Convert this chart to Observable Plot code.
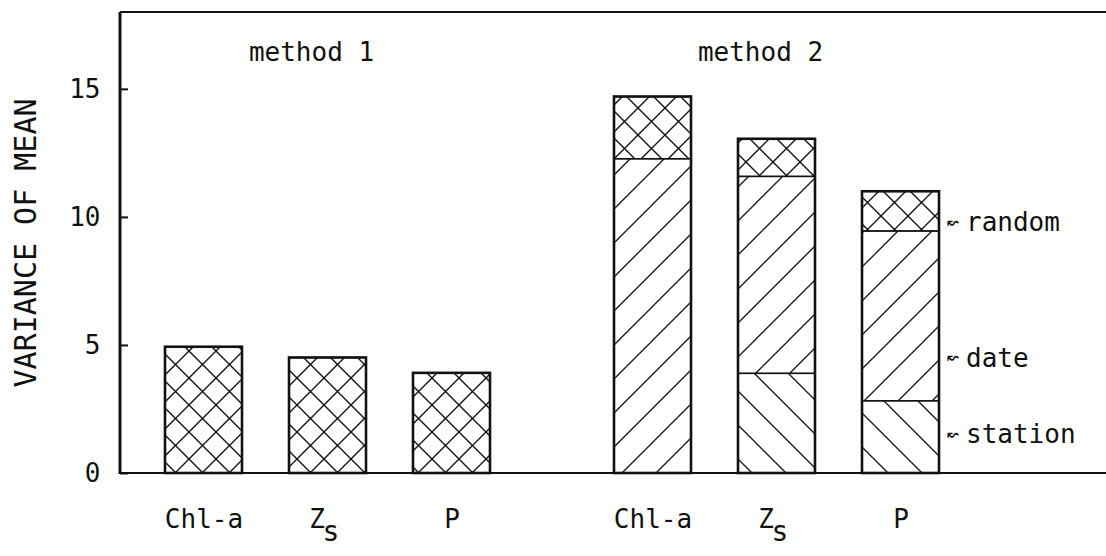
<!DOCTYPE html>
<html><head><meta charset="utf-8">
<script src="https://cdn.jsdelivr.net/npm/d3@7"></script>
<script src="https://cdn.jsdelivr.net/npm/@observablehq/plot@0.6"></script>
<style>body{margin:0;background:#fff} svg{display:block}</style>
</head><body><div id="chart"></div>
<script>
const methods = ["method 1", "method 2"];
const params = ["Chl-a", "Zs", "P"];
const components = ["station", "date", "random"];
const method1Random = [4.93, 4.51, 3.91];
const method2Station = [0, 3.89, 2.82];
const method2Date = [12.27, 7.69, 6.63];
const method2Random = [2.43, 1.47, 1.55];
const yTicks = [0, 5, 10, 15];
const yTitle = "VARIANCE OF MEAN";
const annotations = [
  {label: "random", y: 9.8},
  {label: "date", y: 4.5},
  {label: "station", y: 1.5}
];

const rows = [];
params.forEach((p, i) => {
  rows.push({method: methods[0], param: p, component: "random", value: method1Random[i]});
  rows.push({method: methods[1], param: p, component: "station", value: method2Station[i]});
  rows.push({method: methods[1], param: p, component: "date", value: method2Date[i]});
  rows.push({method: methods[1], param: p, component: "random", value: method2Random[i]});
});
const totals = d3.rollups(rows, v => d3.sum(v, d => d.value), d => d.method, d => d.param)
  .flatMap(([m, ps]) => ps.map(([p, t]) => ({method: m, param: p, total: t})));
const xLabels = methods.flatMap(m => params.map(p => ({method: m, param: p})));

const plot = Plot.plot({
  width: 1106,
  height: 556,
  marginLeft: 120,
  marginRight: 122.5,
  marginTop: 12,
  marginBottom: 83,
  style: {fontFamily: "'DejaVu Sans Mono', monospace", color: "#111", background: "#fff"},
  fx: {domain: methods, paddingInner: 0.079, paddingOuter: 0, axis: null, label: null},
  x: {domain: params, paddingInner: 0.38, paddingOuter: 0.346, axis: null, label: null},
  y: {domain: [0, 18]},
  color: {type: "ordinal", domain: components, range: ["url(#hatch-back)", "url(#hatch-fwd)", "url(#hatch-cross)"]},
  marks: [
    Plot.axisY({ticks: yTicks, tickSize: -8, tickPadding: 28, fontSize: 26, label: null, strokeWidth: 2}),
    Plot.axisY({ticks: [], tickSize: 0, label: yTitle, labelAnchor: "center", labelArrow: "none", labelOffset: 106, fontSize: 30}),
    Plot.barY(rows, {fx: "method", x: "param", y: "value", fill: "component", stroke: "#111", strokeWidth: 1.4}),
    Plot.barY(totals, {fx: "method", x: "param", y: "total", fill: "none", stroke: "#111", strokeWidth: 2.6}),
    Plot.text(methods, {fx: d => d, text: d => d, frameAnchor: "top", dy: 30, dx: -16, fontSize: 26}),
    Plot.text(xLabels.filter(d => d.param !== "Zs"), {fx: "method", x: "param", text: "param", frameAnchor: "bottom", dy: 54, fontSize: 26}),
    Plot.text(xLabels.filter(d => d.param === "Zs"), {fx: "method", x: "param", text: () => "Z", frameAnchor: "bottom", dy: 54, dx: -11, fontSize: 26}),
    Plot.text(xLabels.filter(d => d.param === "Zs"), {fx: "method", x: "param", text: () => "s", frameAnchor: "bottom", dy: 67, dx: 3, fontSize: 28}),
    Plot.text(annotations, {fx: () => methods[1], x: () => "P", y: "y", text: "label", textAnchor: "start", dx: 65, fontSize: 26}),
    Plot.text(annotations, {fx: () => methods[1], x: () => "P", y: "y", text: () => "↜", dx: 52, fontSize: 22})
  ]
});

const svg = d3.select(plot.tagName === "svg" ? plot : plot.querySelector("svg"));
const defs = svg.insert("defs", ":first-child");
function pat(id, size, d, sw) {
  defs.append("pattern").attr("id", id).attr("patternUnits", "userSpaceOnUse")
    .attr("width", size).attr("height", size)
    .append("path").attr("d", d).attr("stroke", "#111").attr("stroke-width", sw).attr("fill", "none");
}
pat("hatch-cross", 27, "M0,0L27,27M27,0L0,27", 1.4);
pat("hatch-fwd", 34, "M0,34L34,0M-5,5L5,-5M29,39L39,29", 1.3);
pat("hatch-back", 34, "M0,0L34,34M-5,29L5,39M29,-5L39,5", 1.3);

const y = plot.scale("y");
const y0 = y.apply(0), y1 = y.apply(18);
const frame = svg.append("g").attr("stroke", "#111").attr("fill", "none");
frame.append("line").attr("x1", 120).attr("x2", 120).attr("y1", y1).attr("y2", y0 + 1).attr("stroke-width", 3);
frame.append("line").attr("x1", 120).attr("x2", 1106).attr("y1", y1).attr("y2", y1).attr("stroke-width", 2);
frame.append("line").attr("x1", 120).attr("x2", 1106).attr("y1", y0).attr("y2", y0).attr("stroke-width", 2);

document.getElementById("chart").append(plot);
</script>
</body></html>
